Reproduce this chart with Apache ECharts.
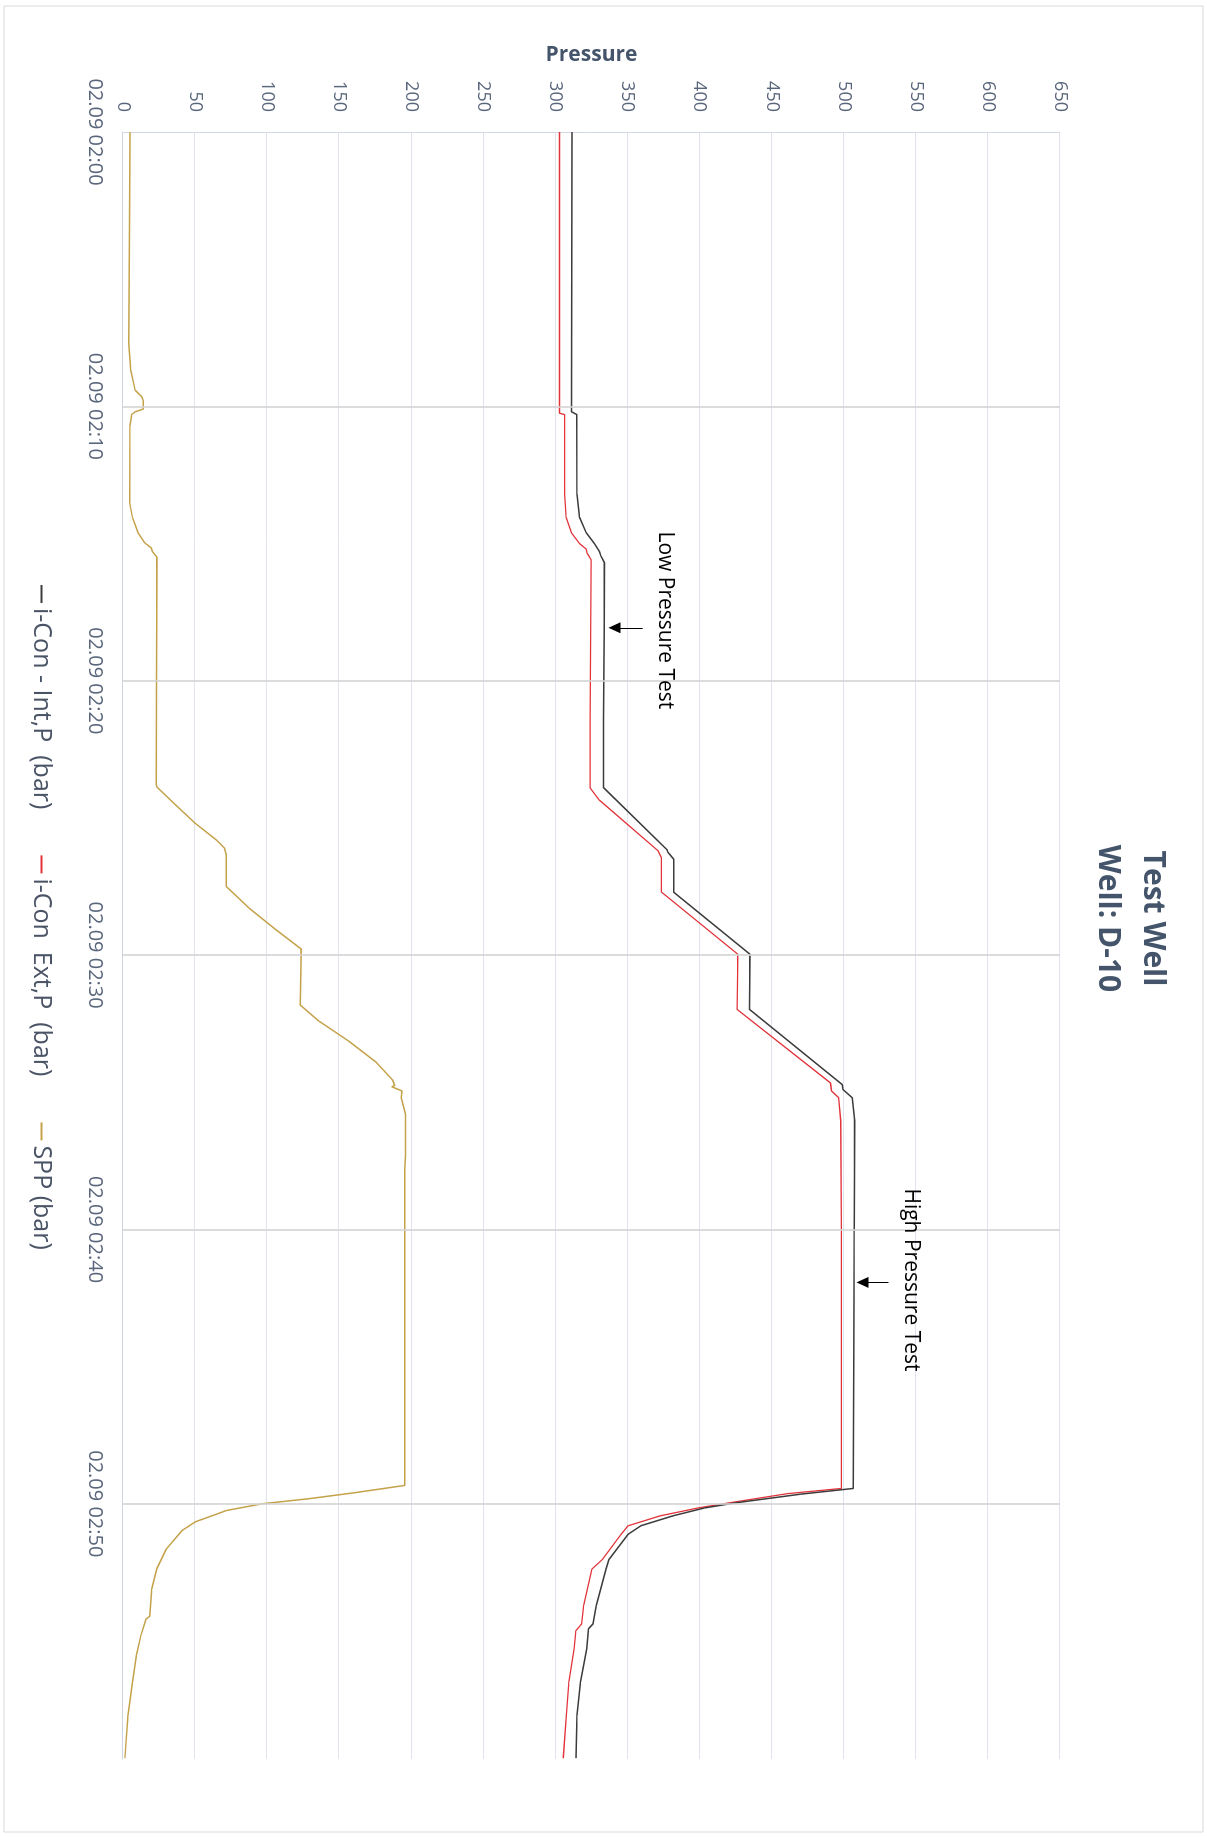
<!DOCTYPE html>
<html>
<head>
<meta charset="utf-8">
<script src="https://cdn.jsdelivr.net/npm/echarts@6/dist/echarts.min.js"></script>
<style>
  html, body { margin: 0; padding: 0; background: #fff; overflow: hidden; }
  #wrap { position: absolute; left: 0; top: 0; width: 1837px; height: 1207px;
          transform-origin: 0 0; transform: translate(1207px, 0) rotate(90deg); }
  #chart { width: 1837px; height: 1207px; }
</style>
</head>
<body>
<div id="wrap"><div id="chart"></div></div>
<script>
// time in minutes after 02.09 02:00
const timeTicks = [0, 10, 20, 30, 40, 50];
const timeTickLabels = ['02.09 02:00', '02.09 02:10', '02.09 02:20', '02.09 02:30', '02.09 02:40', '02.09 02:50'];
const timeGridLines = [10, 20, 30, 40, 50];
const timeMax = 59.3;

const pressureTicks = [0, 50, 100, 150, 200, 250, 300, 350, 400, 450, 500, 550, 600, 650];

const seriesNames = ['i-Con - Int,P  (bar)', 'i-Con  Ext,P  (bar)', 'SPP (bar)'];

const intT = [0, 5, 10.2, 10.3, 13.2, 14.04, 14.6, 15.0, 15.3, 15.45, 15.7, 18, 21.4, 23.9, 26.16, 26.25, 26.5, 27.71, 29.97, 31.98, 34.72, 34.9, 35.2, 36.05, 40, 45, 49.44, 49.65, 49.96, 50.15, 50.44, 50.8, 51.11, 52.02, 52.38, 53.71, 54.37, 54.55, 55.28, 56.49, 57.7, 59.27];
const intP = [311.5, 311.3, 311.2, 314.8, 315, 316.7, 321.3, 327, 330.6, 331.5, 334, 333.8, 333.4, 333.4, 377.4, 378, 382, 382, 435, 434.6, 499, 499.5, 505.8, 507.6, 507.2, 507, 506.5, 469.7, 425.5, 403.4, 381.3, 359.2, 350.4, 337.2, 335, 328.3, 326.1, 323, 321.7, 317.3, 315, 314.2];

const extT = [0, 5, 10.25, 10.3, 13.2, 14.04, 14.6, 15.0, 15.2, 15.35, 15.6, 21.4, 23.9, 24.34, 26.2, 26.45, 27.7, 29.97, 31.98, 34.66, 34.95, 35.2, 36.05, 40, 49.44, 49.63, 49.96, 50.15, 50.44, 50.8, 51.14, 52.02, 52.38, 53.71, 54.37, 54.62, 55.28, 56.49, 57.7, 59.27];
const extP = [302.8, 302.8, 302.8, 306.3, 306.3, 307.4, 311, 316.7, 321.3, 322, 324.8, 324, 324, 330.2, 371.2, 373.5, 373.5, 426.5, 426, 490.8, 491.5, 496.5, 497.9, 498.3, 498.3, 460.8, 421, 399, 372.5, 350.4, 345.1, 332.7, 325.3, 319.5, 318.2, 314.2, 312.9, 309.3, 307.6, 305.4];

const sppT = [0, 3.46, 7.71, 8.68, 9.41, 9.65, 9.8, 10.1, 10.2, 10.3, 10.7, 13.5, 14.04, 14.6, 14.97, 15.16, 15.3, 15.5, 20, 23.78, 23.88, 24.6, 25.18, 25.8, 26.1, 26.35, 27.5, 28.3, 29.07, 29.78, 31.82, 32.41, 33.15, 33.9, 34.55, 34.75, 34.8, 34.95, 35.2, 35.8, 37.3, 37.8, 45, 49.33, 49.6, 49.81, 50.0, 50.24, 50.66, 50.97, 51.65, 52.37, 53.1, 54.1, 54.2, 54.8, 55.5, 56.5, 57.7, 59.27];
const sppP = [4.9, 4.5, 4.0, 5.4, 8.4, 13.0, 14.1, 14.0, 8.4, 6.0, 4.9, 4.6, 6.5, 10.4, 15, 19.6, 20.5, 23.6, 23.3, 23.1, 23.6, 38, 49.7, 64.7, 70.4, 71.6, 71.6, 87.8, 106, 123.6, 122.9, 136, 157, 175.5, 187, 188.5, 186.5, 193.5, 193, 196, 196, 195.4, 195.4, 195.4, 160, 129.5, 96.3, 72, 50, 41, 30, 23.4, 19.9, 18.5, 16, 12.4, 9.3, 6.6, 3.5, 1.3];

// annotations: [label, label time, label pressure, arrow time, arrow from, arrow to]
const lowNote = ['Low Pressure Test', 17.8, 376, 18.07, 360.5, 341];
const highNote = ['High Pressure Test', 41.84, 546.6, 41.93, 531, 513];

const pairs = (t, p) => t.map((v, i) => [v, p[i]]);

const chart = echarts.init(document.getElementById('chart'), null, { renderer: 'canvas' });
const FONT = 'Open Sans';

const noteMarkPoint = (n) => ({
  coord: [n[1], n[2]], symbol: 'rect', symbolSize: 1,
  itemStyle: { color: 'rgba(0,0,0,0)' },
  label: { show: true, position: 'inside', formatter: n[0], color: '#000', fontSize: 21, fontFamily: FONT,
           align: 'center', verticalAlign: 'middle' }
});
const noteArrow = (n) => [{ coord: [n[3], n[4]] }, { coord: [n[3], n[5]] }];

chart.setOption({
  animation: false,
  backgroundColor: '#fff',
  title: {
    text: 'Test Well\nWell: D-10',
    left: 'center', top: 27,
    textStyle: { fontFamily: FONT, fontSize: 30, fontWeight: 'bold', color: '#44546A', lineHeight: 45 }
  },
  legend: {
    data: seriesNames.map((n) => ({ name: n, icon: 'rect' })),
    left: 580, top: 1148,
    itemWidth: 18, itemHeight: 2, itemGap: 46,
    textStyle: { fontFamily: FONT, fontSize: 25, color: '#4a5466' }
  },
  graphic: [{
    type: 'rect', silent: true, z: -10,
    shape: { x: 6, y: 4, width: 1826, height: 1199 },
    style: { fill: 'none', stroke: '#d9d9d9', lineWidth: 1 }
  }],
  grid: { left: 132, right: 78, top: 147, bottom: 123, containLabel: false },
  xAxis: {
    type: 'value', min: 0, max: timeMax, interval: 10,
    axisLine: { show: true, lineStyle: { color: '#cdd4e0', width: 1 } },
    axisTick: { show: false },
    splitLine: { show: false },
    axisLabel: {
      margin: 18, fontFamily: FONT, fontSize: 20, color: '#5a667c',
      showMaxLabel: false,
      formatter: (v) => { const i = timeTicks.indexOf(v); return i >= 0 ? timeTickLabels[i] : ''; }
    }
  },
  yAxis: {
    type: 'value', min: pressureTicks[0], max: pressureTicks[pressureTicks.length - 1], interval: 50,
    name: 'Pressure', nameLocation: 'middle', nameGap: 66, nameRotate: 90,
    nameTextStyle: { fontFamily: FONT, fontSize: 21, fontWeight: 'bold', color: '#44546A' },
    axisLine: { show: true, lineStyle: { color: '#d2d9e4', width: 1 } },
    axisTick: { show: false },
    splitLine: { show: true, lineStyle: { color: '#dfe4ec', width: 1 } },
    axisLabel: { margin: 20, fontFamily: FONT, fontSize: 18, color: '#5a667c' }
  },
  series: [
    {
      name: seriesNames[0], type: 'line', symbol: 'none', data: pairs(intT, intP),
      lineStyle: { color: '#3c3c3c', width: 1.5 }, itemStyle: { color: '#3c3c3c' }, z: 4,
      markPoint: { silent: true, data: [noteMarkPoint(lowNote), noteMarkPoint(highNote)] },
      markLine: {
        silent: true, symbol: ['none', 'triangle'], symbolSize: [11, 12],
        lineStyle: { color: '#000', width: 1, type: 'solid' }, label: { show: false },
        data: [noteArrow(lowNote), noteArrow(highNote)]
      }
    },
    {
      name: seriesNames[1], type: 'line', symbol: 'none', data: pairs(extT, extP),
      lineStyle: { color: '#e2333b', width: 1.3 }, itemStyle: { color: '#e2333b' }, z: 3
    },
    {
      name: seriesNames[2], type: 'line', symbol: 'none', data: pairs(sppT, sppP),
      lineStyle: { color: '#c4a24a', width: 1.5 }, itemStyle: { color: '#c4a24a' }, z: 3,
      markLine: {
        silent: true, symbol: ['none', 'none'], label: { show: false },
        lineStyle: { color: '#d3d3d3', width: 1.6, type: 'solid' },
        data: timeGridLines.map((v) => ({ xAxis: v }))
      }
    }
  ]
});
</script>
</body>
</html>
